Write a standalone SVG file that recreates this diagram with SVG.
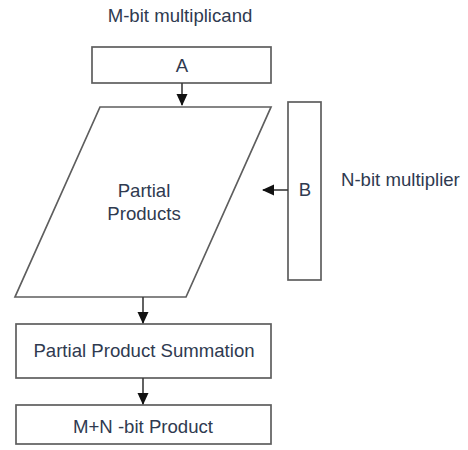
<svg xmlns="http://www.w3.org/2000/svg" width="468" height="450" viewBox="0 0 468 450">
  <style>
    .shape { fill: #ffffff; stroke: #5e5e5e; stroke-width: 1.7; }
    .lbl { font-family: "Liberation Sans", Arial, sans-serif; font-size: 18.6px; fill: #2f3a50; text-anchor: middle; }
    .note { font-family: "Liberation Sans", Arial, sans-serif; font-size: 18.6px; fill: #2f3a50; }
    .wire { stroke: #3a3a3a; stroke-width: 1.6; fill: none; }
  </style>
  <defs>
    <marker id="head" markerUnits="userSpaceOnUse" markerWidth="12" markerHeight="12" viewBox="0 0 12 12" refX="11" refY="6" orient="auto">
      <path d="M0,0.5 L12,6 L0,11.5 Z" fill="#111111"/>
    </marker>
  </defs>
  <rect width="468" height="450" fill="#ffffff"/>

  <text class="lbl" x="180" y="22">M-bit multiplicand</text>
  <text class="note" x="341" y="186">N-bit multiplier</text>

  <g id="node-a">
    <rect class="shape" x="92" y="47" width="179" height="36"/>
    <text class="lbl" x="182" y="72">A</text>
  </g>

  <g id="node-partial">
    <polygon class="shape" points="100,107 271,107 186,297 15,297"/>
    <text class="lbl" x="144" y="197">Partial</text>
    <text class="lbl" x="144" y="220">Products</text>
  </g>

  <g id="node-b">
    <rect class="shape" x="288" y="102" width="33" height="178"/>
    <text class="lbl" x="305" y="196">B</text>
  </g>

  <g id="node-sum">
    <rect class="shape" x="16" y="324" width="255" height="54"/>
    <text class="lbl" x="144" y="357">Partial Product Summation</text>
  </g>

  <g id="node-product">
    <rect class="shape" x="16" y="405" width="255" height="39"/>
    <text class="lbl" x="143" y="433">M+N -bit Product</text>
  </g>

  <g id="connectors">
    <line class="wire" x1="182" y1="83" x2="182" y2="105" marker-end="url(#head)"/>
    <line class="wire" x1="288" y1="190" x2="263" y2="190" marker-end="url(#head)"/>
    <line class="wire" x1="143" y1="297" x2="143" y2="323" marker-end="url(#head)"/>
    <line class="wire" x1="143" y1="378" x2="143" y2="404" marker-end="url(#head)"/>
  </g>
</svg>
